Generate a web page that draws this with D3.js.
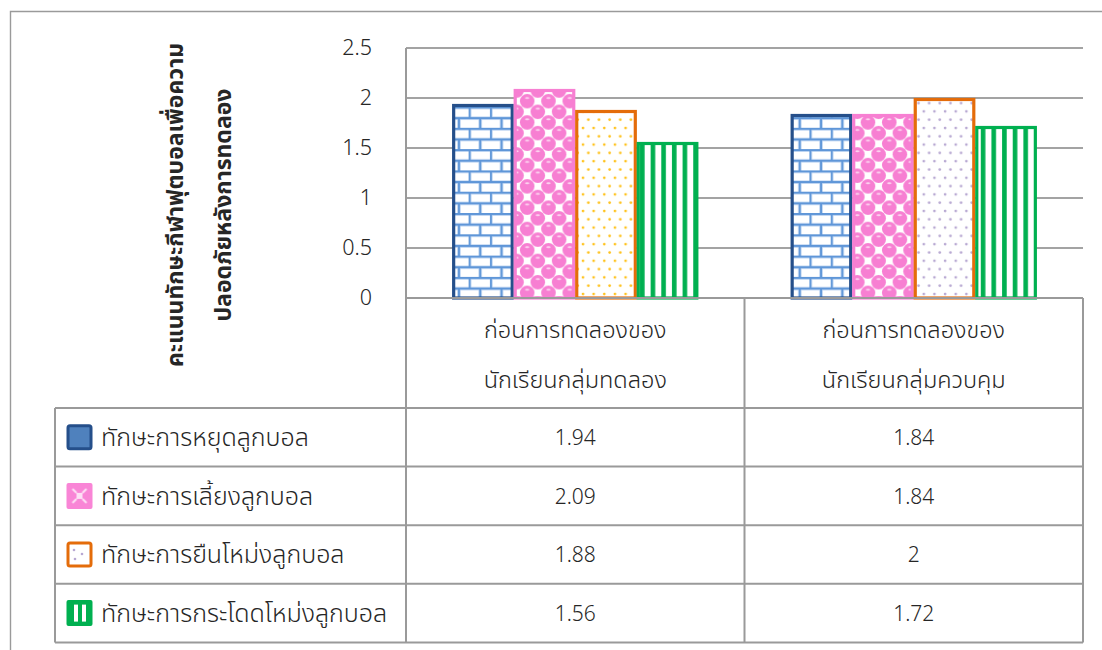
<!DOCTYPE html>
<html>
<head>
<meta charset="utf-8">
<script src="https://cdn.jsdelivr.net/npm/d3@7"></script>
<style>
  html, body { margin: 0; padding: 0; background: #fff; }
  svg { display: block; }
  text { font-family: "Noto Sans Thai", "Noto Sans", "Open Sans", sans-serif; fill: #262626; }
</style>
</head>
<body>
<svg id="chart" width="1102" height="650"></svg>
<script>
// ---- data ----
const categories = [
  ["ก่อนการทดลองของ", "นักเรียนกลุ่มทดลอง"],
  ["ก่อนการทดลองของ", "นักเรียนกลุ่มควบคุม"]
];
const seriesNames = [
  "ทักษะการหยุดลูกบอล",
  "ทักษะการเลี้ยงลูกบอล",
  "ทักษะการยืนโหม่งลูกบอล",
  "ทักษะการกระโดดโหม่งลูกบอล"
];
const stopBall    = [1.94, 1.84];
const dribbleBall = [2.09, 1.84];
const standHeader = [1.88, 2];
const jumpHeader  = [1.56, 1.72];
const yTicks = [0, 0.5, 1, 1.5, 2, 2.5];
const yTitle = ["คะแนนทักษะกีฬาฟุตบอลเพื่อความ", "ปลอดภัยหลังการทดลอง"];

const seriesValues = [stopBall, dribbleBall, standHeader, jumpHeader];

// ---- layout ----
const svg = d3.select("#chart");
const plotLeft = 406, plotRight = 1083, plotTop = 48, plotBottom = 298;
const tableLeft = 55, tableTop = 408, rowH = 58.6;
const gridColor = "#a3a3a3", tableColor = "#9a9a9a";

const x = d3.scaleBand().domain(d3.range(categories.length)).range([plotLeft, plotRight]);
const xs = d3.scaleBand().domain(d3.range(seriesNames.length))
  .range([0, x.bandwidth()]).paddingInner(0).paddingOuter(0.75);
const y = d3.scaleLinear().domain([0, 2.5]).range([plotBottom, plotTop]);

// ---- patterns ----
const defs = svg.append("defs");

// brick
const brick = defs.append("pattern").attr("id", "pBrick")
  .attr("patternUnits", "userSpaceOnUse").attr("width", 21.3).attr("height", 21.3);
brick.append("rect").attr("width", 21.3).attr("height", 21.3).attr("fill", "#fff");
const brickPath = "M0,1 H21.3 M0,11.65 H21.3 M1,1 V11.65 M11.65,11.65 V21.3";
brick.append("path").attr("d", brickPath)
  .attr("stroke", "#a9c8ee").attr("stroke-width", 3.2).attr("fill", "none");
brick.append("path").attr("d", brickPath)
  .attr("stroke", "#5f96d8").attr("stroke-width", 1.8).attr("fill", "none");

// spheres on a diagonal checker
const S = 21.3, h = S / 2;
const sph = defs.append("pattern").attr("id", "pSphere")
  .attr("patternUnits", "userSpaceOnUse").attr("width", S).attr("height", S);
sph.append("rect").attr("width", S).attr("height", S).attr("fill", "#fff");
const sphereCenters = [];
for (let i = -1; i <= 2; i++) for (let j = -1; j <= 2; j++)
  if ((i + j) % 2 === 0) sphereCenters.push([h / 2 + i * h, h / 2 + j * h]);
sphereCenters.forEach(([cx, cy]) => {
  sph.append("circle").attr("cx", cx).attr("cy", cy).attr("r", 7.3).attr("fill", "#f77fd2");
  sph.append("ellipse").attr("cx", cx).attr("cy", cy - 3.2).attr("rx", 2.2).attr("ry", 1)
    .attr("fill", "#fcd3ef");
});

// dots (two colourings)
function dotPattern(id, color) {
  const p = defs.append("pattern").attr("id", id)
    .attr("patternUnits", "userSpaceOnUse").attr("width", 10.65).attr("height", 16.6);
  p.append("rect").attr("width", 10.65).attr("height", 16.6).attr("fill", "#fff");
  p.append("circle").attr("cx", 2.6).attr("cy", 3.5).attr("r", 1.35).attr("fill", color);
  p.append("circle").attr("cx", 7.9).attr("cy", 11.8).attr("r", 1.35).attr("fill", color);
}
dotPattern("pDotsY", "#ffc21a");
dotPattern("pDotsL", "#b8a8d2");

// vertical stripes
const str = defs.append("pattern").attr("id", "pStripe")
  .attr("patternUnits", "userSpaceOnUse").attr("width", 10.65).attr("height", 10);
str.append("rect").attr("width", 10.65).attr("height", 10).attr("fill", "#fff");
str.append("rect").attr("x", 1).attr("width", 4.6).attr("height", 10).attr("fill", "#00b050");

// legend-icon pattern for the dribbling key
const lp = defs.append("pattern").attr("id", "pLegPink")
  .attr("patternUnits", "objectBoundingBox").attr("width", 1).attr("height", 1);
lp.append("rect").attr("width", 26).attr("height", 26).attr("fill", "#f985d6");
lp.append("path").attr("d", "M6,6 L10,10 M20,6 L16,10 M6,20 L10,16 M20,20 L16,16")
  .attr("stroke", "#fde0f5").attr("stroke-width", 2);
lp.append("rect").attr("x", 10).attr("y", 10).attr("width", 6).attr("height", 6).attr("fill", "#fde0f5");

// per-series style, with per-category fills
const styles = [
  { stroke: "#254f8a", fills: ["url(#pBrick)", "url(#pBrick)"] },
  { stroke: "#f77fd2", fills: ["url(#pSphere)", "url(#pSphere)"] },
  { stroke: "#e46c0a", fills: ["url(#pDotsY)", "url(#pDotsL)"] },
  { stroke: "#00b050", fills: ["url(#pStripe)", "url(#pStripe)"] }
];

// ---- outer frame ----
svg.append("path").attr("d", "M10.5,650 V11.5 H1102")
  .attr("fill", "none").attr("stroke", "#9a9a9a").attr("stroke-width", 1.4);

// ---- gridlines ----
svg.append("g").selectAll("line").data(yTicks).join("line")
  .attr("x1", plotLeft).attr("x2", plotRight)
  .attr("y1", d => y(d)).attr("y2", d => y(d))
  .attr("stroke", gridColor).attr("stroke-width", 2);

// ---- y axis labels ----
const yAxis = d3.axisLeft(y).tickValues(yTicks).tickSize(0).tickPadding(34)
  .tickFormat(d => String(d));
const ya = svg.append("g").attr("transform", `translate(${plotLeft},0)`).call(yAxis);
ya.select(".domain").remove();
ya.selectAll("text").attr("font-size", 21.5).attr("fill", "#333")
  .style("font-family", "\"Noto Sans Thai\", \"Noto Sans\", sans-serif").attr("font-weight", 300);

// ---- y title ----
const yt = svg.append("g");
yTitle.forEach((line, i) => {
  yt.append("text")
    .attr("transform", `translate(${183 + i * 48},205) rotate(-90)`)
    .attr("text-anchor", "middle").attr("font-size", 23).attr("font-weight", 700)
    .attr("fill", "#111").text(line);
});

// ---- bars ----
const groups = svg.append("g").selectAll("g").data(seriesValues).join("g");
groups.selectAll("rect")
  .data((vals, si) => vals.map((v, ci) => ({ v, ci, si })))
  .join("rect")
  .attr("x", d => x(d.ci) + xs(d.si) + 1.5)
  .attr("width", xs.bandwidth() - 3)
  .attr("y", d => y(d.v) + 1.5)
  .attr("height", d => y(0) - y(d.v) - 1.5)
  .attr("fill", d => styles[d.si].fills[d.ci])
  .attr("stroke", d => styles[d.si].stroke)
  .attr("stroke-width", 3.2);

// ---- data table lines ----
const tableBottom = tableTop + rowH * seriesNames.length;
const lines = svg.append("g").attr("stroke", tableColor).attr("stroke-width", 2);
lines.append("line").attr("x1", plotLeft).attr("x2", plotLeft).attr("y1", plotTop).attr("y2", tableBottom);
d3.range(1, categories.length + 1).forEach(i => {
  const xv = i < categories.length ? x(i) : plotRight;
  lines.append("line").attr("x1", xv).attr("x2", xv).attr("y1", plotBottom).attr("y2", tableBottom);
});
lines.append("line").attr("x1", tableLeft).attr("x2", tableLeft).attr("y1", tableTop).attr("y2", tableBottom);
d3.range(seriesNames.length + 1).forEach(r => {
  const yv = tableTop + r * rowH;
  lines.append("line").attr("x1", tableLeft).attr("x2", plotRight).attr("y1", yv).attr("y2", yv);
});
lines.append("line").attr("x1", plotLeft).attr("x2", plotRight).attr("y1", plotBottom).attr("y2", plotBottom);

// ---- category labels ----
svg.append("g").selectAll("text").data(categories).join("text")
  .attr("x", (d, i) => x(i) + x.bandwidth() / 2)
  .attr("text-anchor", "middle").attr("font-size", 23.5).attr("font-weight", 300)
  .each(function (d) {
    d3.select(this).selectAll("tspan").data(d).join("tspan")
      .attr("x", d3.select(this).attr("x"))
      .attr("y", (t, k) => 338 + k * 50).text(t => t);
  });

// ---- table rows: legend keys, names, values ----
const rows = svg.append("g").selectAll("g").data(seriesNames).join("g")
  .attr("transform", (d, i) => `translate(0,${tableTop + i * rowH})`);

rows.append("text").attr("x", 101).attr("y", rowH / 2 + 9)
  .attr("font-size", 25).attr("font-weight", 300).text(d => d);

rows.append("g").selectAll("text")
  .data((d, i) => seriesValues[i])
  .join("text")
  .attr("x", (v, ci) => x(ci) + x.bandwidth() / 2)
  .attr("y", rowH / 2 + 8).attr("text-anchor", "middle").attr("font-size", 21)
  .attr("font-weight", 300).attr("fill", "#333")
  .text(v => String(v));

// legend keys
const kx = 68, ksz = 23;
rows.each(function (d, i) {
  const g = d3.select(this);
  const ky = rowH / 2 - ksz / 2;
  if (i === 0) {
    g.append("rect").attr("x", kx).attr("y", ky).attr("width", ksz).attr("height", ksz)
      .attr("rx", 2).attr("fill", "#4f81bd").attr("stroke", "#254f8a").attr("stroke-width", 3);
  } else if (i === 1) {
    g.append("rect").attr("x", kx - 1.5).attr("y", ky - 1.5).attr("width", ksz + 3).attr("height", ksz + 3)
      .attr("rx", 2).attr("fill", "url(#pLegPink)");
  } else if (i === 2) {
    g.append("rect").attr("x", kx).attr("y", ky).attr("width", ksz).attr("height", ksz)
      .attr("rx", 2).attr("fill", "#fff").attr("stroke", "#e46c0a").attr("stroke-width", 3);
    [[6, 7], [14, 11], [7, 16]].forEach(([dx, dy]) =>
      g.append("circle").attr("cx", kx + dx).attr("cy", ky + dy).attr("r", 1.3).attr("fill", "#b8a8d2"));
  } else {
    g.append("rect").attr("x", kx - 1.5).attr("y", ky - 1.5).attr("width", ksz + 3).attr("height", ksz + 3)
      .attr("rx", 2).attr("fill", "#00b050");
    [6, 14].forEach(dx =>
      g.append("rect").attr("x", kx + dx).attr("y", ky + 3).attr("width", 4).attr("height", ksz - 6).attr("fill", "#fff"));
  }
});
</script>
</body>
</html>
